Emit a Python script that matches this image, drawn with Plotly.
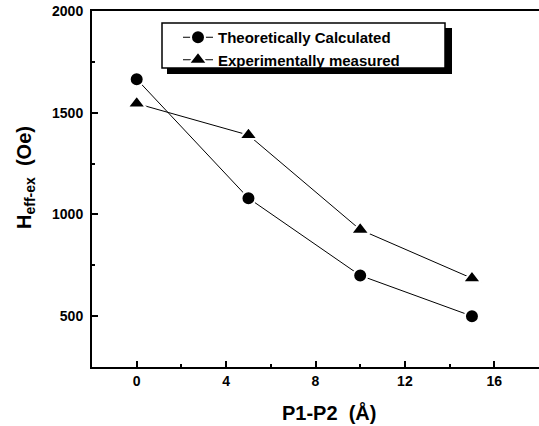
import plotly.graph_objects as go

# ---- data ----
spacing = [0, 5, 10, 15]
theory = [1665, 1080, 700, 500]
experiment = [1545, 1390, 925, 686]
x_ticks = [0, 4, 8, 12, 16]
y_ticks = [500, 1000, 1500, 2000]

W, H = 539, 426
L, R, T, B = 92, 0, 11, 59
pw, ph = W - L - R, H - T - B


def px(x):
    return (x - L) / pw


def py(y):
    return (H - B - y) / ph


FONT = "Liberation Sans, Arial, Helvetica, sans-serif"

fig = go.Figure()
fig.add_trace(go.Scatter(
    x=spacing, y=theory, mode="lines+markers", name="Theoretically Calculated",
    line=dict(color="black", width=1),
    marker=dict(symbol="circle", size=14, color="black", line=dict(color="white", width=2)),
))
fig.add_trace(go.Scatter(
    x=spacing, y=experiment, mode="lines+markers", name="Experimentally measured",
    line=dict(color="black", width=1),
    marker=dict(symbol="triangle-up", size=16, color="black", line=dict(color="white", width=2)),
))

axis_common = dict(
    showline=True, linewidth=2, linecolor="black", mirror=True,
    showgrid=False, zeroline=False,
    ticks="inside", ticklen=6, tickwidth=1.5, tickcolor="black",
    tickfont=dict(family=FONT, size=14, color="black", weight="bold"),
)

fig.update_xaxes(range=[-2, 18], tickvals=x_ticks,
                 minor=dict(dtick=2, tick0=0, ticks="inside", ticklen=3, tickwidth=1.5, tickcolor="black"),
                 **axis_common)
fig.update_yaxes(range=[250, 2000], tickvals=y_ticks, ticklabelstandoff=4,
                 minor=dict(dtick=250, tick0=0, ticks="inside", ticklen=3, tickwidth=1.5, tickcolor="black"),
                 **axis_common)

# legend box with shadow
fig.add_shape(type="rect", xref="paper", yref="paper",
              x0=px(167), x1=px(452), y0=py(74), y1=py(28),
              fillcolor="black", line=dict(width=0), layer="above")
fig.add_shape(type="rect", xref="paper", yref="paper",
              x0=px(162), x1=px(445), y0=py(68), y1=py(23),
              fillcolor="white", line=dict(color="black", width=1.5), layer="above")

fig.add_annotation(text="H<sub>eff-ex</sub>\u00a0\u00a0(Oe)", textangle=-90,
                   xref="paper", yref="paper", x=px(25), y=py(178),
                   xanchor="center", yanchor="middle", showarrow=False,
                   font=dict(family=FONT, size=20, color="black", weight="bold"))
fig.add_annotation(text="P1-P2\u00a0\u00a0(Å)",
                   xref="paper", yref="paper", x=px(329), y=py(412),
                   xanchor="center", yanchor="middle", showarrow=False,
                   font=dict(family=FONT, size=20, color="black", weight="bold"))

fig.update_layout(
    width=W, height=H,
    margin=dict(l=L, r=R, t=T, b=B, autoexpand=False),
    paper_bgcolor="white", plot_bgcolor="white",
    showlegend=True,
    legend=dict(x=px(178), y=py(21),
                xanchor="left", yanchor="top", bgcolor="rgba(0,0,0,0)",
                borderwidth=0, tracegroupgap=0,
                font=dict(family=FONT, size=15, color="black", weight="bold")),
)

fig.write_html("out.html")
